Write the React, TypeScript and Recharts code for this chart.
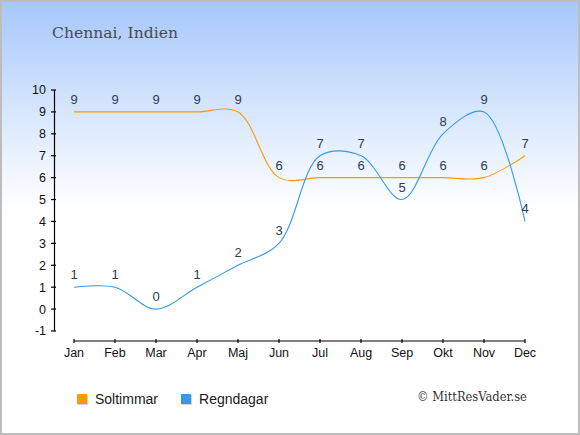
import React from 'react';
import { LineChart, Line, XAxis, YAxis, LabelList, Legend } from 'recharts';

const months = ['Jan', 'Feb', 'Mar', 'Apr', 'Maj', 'Jun', 'Jul', 'Aug', 'Sep', 'Okt', 'Nov', 'Dec'];
const soltimmar = [9, 9, 9, 9, 9, 6, 6, 6, 6, 6, 6, 7];
const regndagar = [1, 1, 0, 1, 2, 3, 7, 7, 5, 8, 9, 4];
const yTicks = [-1, 0, 1, 2, 3, 4, 5, 6, 7, 8, 9, 10];
const seriesNames = ['Soltimmar', 'Regndagar'];
const seriesColors = ['#ff9900', '#3399ee'];
const title = 'Chennai, Indien';
const credit = '\u00a9 MittResVader.se';

const data = months.map((m, i) => ({ month: m, sol: soltimmar[i], regn: regndagar[i] }));

const FONT = "'Liberation Sans', Arial, sans-serif";

// Centripetal Catmull-Rom curve factory (alpha 0.5), same algorithm as d3's curveCatmullRom
function catmullRomCurve(context: any) {
  const alpha = 0.5;
  const eps = 1e-12;
  let x0 = NaN, y0 = NaN, x1 = NaN, y1 = NaN, x2 = NaN, y2 = NaN;
  let l01a = 0, l12a = 0, l23a = 0, l012a = 0, l122a = 0, l232a = 0;
  let pt = 0;
  let line: number = NaN;
  const seg = (x: number, y: number) => {
    let cx1 = x1, cy1 = y1, cx2 = x2, cy2 = y2;
    if (l01a > eps) {
      const a = 2 * l012a + 3 * l01a * l12a + l122a;
      const n = 3 * l01a * (l01a + l12a);
      cx1 = (cx1 * a - x0 * l122a + x2 * l012a) / n;
      cy1 = (cy1 * a - y0 * l122a + y2 * l012a) / n;
    }
    if (l23a > eps) {
      const b = 2 * l232a + 3 * l23a * l12a + l122a;
      const m = 3 * l23a * (l23a + l12a);
      cx2 = (cx2 * b + x1 * l232a - x * l122a) / m;
      cy2 = (cy2 * b + y1 * l232a - y * l122a) / m;
    }
    context.bezierCurveTo(cx1, cy1, cx2, cy2, x2, y2);
  };
  const api = {
    areaStart() { line = 0; },
    areaEnd() { line = NaN; },
    lineStart() {
      x0 = x1 = x2 = y0 = y1 = y2 = NaN;
      l01a = l12a = l23a = l012a = l122a = l232a = 0;
      pt = 0;
    },
    lineEnd() {
      if (pt === 2) context.lineTo(x2, y2);
      else if (pt === 3) api.point(x2, y2);
      if (line || (line !== 0 && pt === 1)) context.closePath();
      line = 1 - line;
    },
    point(x: number, y: number) {
      x = +x; y = +y;
      if (pt) {
        const dx = x2 - x, dy = y2 - y;
        l232a = Math.pow(dx * dx + dy * dy, alpha);
        l23a = Math.sqrt(l232a);
      }
      switch (pt) {
        case 0: pt = 1; if (line) context.lineTo(x, y); else context.moveTo(x, y); break;
        case 1: pt = 2; break;
        case 2: pt = 3; seg(x, y); break;
        default: seg(x, y); break;
      }
      l01a = l12a; l12a = l23a;
      l012a = l122a; l122a = l232a;
      x0 = x1; x1 = x2; x2 = x;
      y0 = y1; y1 = y2; y2 = y;
    },
  };
  return api;
}

const renderLegend = (props: any) => {
  const payload = [...(props.payload || [])].sort(
    (a: any, b: any) => seriesNames.indexOf(a.value) - seriesNames.indexOf(b.value)
  );
  return (
    <div style={{ display: 'flex', alignItems: 'center', fontFamily: FONT, fontSize: 14, color: '#1a1a1a', lineHeight: '16px' }}>
      {payload.map((e: any, i: number) => (
        <div key={i} style={{ display: 'flex', alignItems: 'center', marginRight: 23 }}>
          <span style={{ display: 'inline-block', width: 10, height: 10, background: e.color, boxShadow: '1px 1px 0 rgba(0,0,0,0.18)', marginRight: 8 }} />
          <span>{e.value}</span>
        </div>
      ))}
    </div>
  );
};

export default function App() {
  return (
    <div
      style={{
        position: 'absolute',
        left: 0,
        top: 0,
        width: 580,
        height: 435,
        background: 'linear-gradient(to bottom, #a4c7fb 0%, #d6e6fd 25%, #ffffff 48%, #ffffff 100%)',
        boxShadow: 'inset 0 0 0 2px #bdbdbd',
        overflow: 'hidden',
      }}
    >
      <LineChart width={580} height={435} data={data} margin={{ top: 90, right: 55, left: 0, bottom: 0 }}>
        <XAxis
          dataKey="month"
          interval={0}
          height={104}
          padding={{ left: 0, right: 0 }}
          axisLine={{ stroke: '#000', strokeWidth: 1.2, transform: 'translate(0,10)' }}
          tickLine={{ stroke: '#000', strokeWidth: 1.2, transform: 'translate(0,8)' }}
          tickSize={4}
          tickMargin={13}
          tick={{ fill: '#111', fontSize: 12.5, fontFamily: FONT }}
        />
        <YAxis
          domain={[-1, 10]}
          ticks={yTicks}
          interval={0}
          width={74}
          axisLine={{ stroke: '#000', strokeWidth: 1.2, transform: 'translate(-19.5,0)' }}
          tickLine={{ stroke: '#000', strokeWidth: 1.2, transform: 'translate(-18,0)' }}
          tickSize={5}
          tickMargin={23}
          tick={{ fill: '#111', fontSize: 12.5, fontFamily: FONT }}
        />
        <Legend
          layout="horizontal"
          verticalAlign="middle"
          align="center"
          content={renderLegend}
          wrapperStyle={{ left: 77, top: 390.5, width: 'auto', height: 'auto' }}
        />
        <Line
          name={seriesNames[0]}
          dataKey="sol"
          type={catmullRomCurve as any}
          stroke={seriesColors[0]}
          strokeWidth={1.1}
          dot={false}
          activeDot={false}
          isAnimationActive={false}
        >
          <LabelList dataKey="sol" position="top" offset={8} fill="#2c3a55" fontSize={13} fontFamily={FONT} />
        </Line>
        <Line
          name={seriesNames[1]}
          dataKey="regn"
          type={catmullRomCurve as any}
          stroke={seriesColors[1]}
          strokeWidth={1.1}
          dot={false}
          activeDot={false}
          isAnimationActive={false}
        >
          <LabelList dataKey="regn" position="top" offset={8} fill="#2c3a55" fontSize={13} fontFamily={FONT} />
        </Line>
      </LineChart>
      <svg width={580} height={435} style={{ position: 'absolute', left: 0, top: 0, pointerEvents: 'none' }}>
        <text x={52} y={38} fontFamily="'DejaVu Serif', serif" fontSize={15.6} fill="#4a4a4a">{title}</text>
        <text x={417} y={401} fontFamily="'DejaVu Serif Condensed', 'DejaVu Serif', serif" fontSize={12.8} fill="#333">{credit}</text>
      </svg>
    </div>
  );
}
